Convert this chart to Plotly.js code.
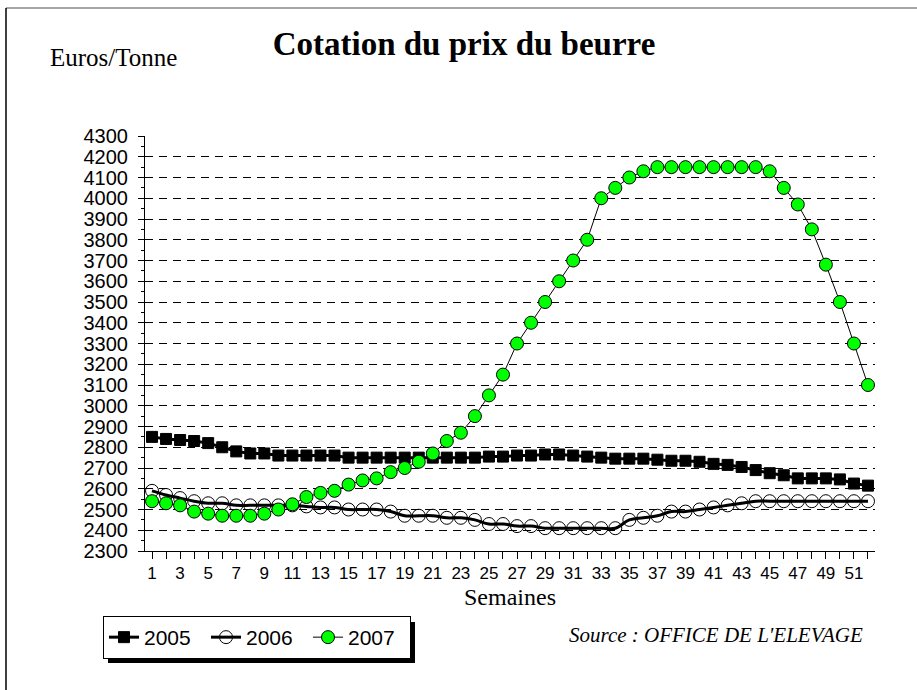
<!DOCTYPE html>
<html>
<head>
<meta charset="utf-8">
<script src="https://cdn.plot.ly/plotly-3.0.1.min.js"></script>
<style>html,body{margin:0;padding:0;background:#fff;}#chart{width:917px;height:690px;}</style>
</head>
<body>
<div id="chart"></div>
<script>
var weeks = [1,2,3,4,5,6,7,8,9,10,11,12,13,14,15,16,17,18,19,20,21,22,23,24,25,26,27,28,29,30,31,32,33,34,35,36,37,38,39,40,41,42,43,44,45,46,47,48,49,50,51,52];
var xTickVals = [1,3,5,7,9,11,13,15,17,19,21,23,25,27,29,31,33,35,37,39,41,43,45,47,49,51];
var xTickText = ["1","3","5","7","9","11","13","15","17","19","21","23","25","27","29","31","33","35","37","39","41","43","45","47","49","51"];
var yTickVals = [2300,2400,2500,2600,2700,2800,2900,3000,3100,3200,3300,3400,3500,3600,3700,3800,3900,4000,4100,4200,4300];
var gridVals = [2400,2500,2600,2700,2800,2900,3000,3100,3200,3300,3400,3500,3600,3700,3800,3900,4000,4100,4200];

var prix2005 = [2850,2840,2835,2830,2820,2800,2780,2770,2770,2760,2760,2760,2760,2760,2750,2750,2750,2750,2750,2750,2750,2750,2750,2750,2755,2755,2760,2760,2765,2765,2760,2755,2750,2745,2745,2745,2740,2735,2735,2730,2720,2715,2705,2690,2675,2665,2650,2650,2650,2645,2625,2615];
var prix2006 = [2590,2570,2555,2540,2530,2530,2520,2520,2520,2520,2520,2515,2510,2510,2500,2500,2500,2490,2470,2470,2470,2460,2460,2450,2430,2430,2420,2420,2410,2410,2410,2410,2410,2410,2450,2460,2470,2490,2490,2500,2510,2520,2530,2540,2540,2540,2540,2540,2540,2540,2540,2540];
var prix2007 = [2540,2530,2520,2490,2480,2470,2470,2470,2480,2500,2525,2560,2580,2590,2620,2640,2650,2680,2700,2730,2770,2830,2870,2950,3050,3150,3300,3400,3500,3600,3700,3800,4000,4050,4100,4130,4150,4150,4150,4150,4150,4150,4150,4150,4130,4050,3970,3850,3680,3500,3300,3100];

var serif = "Liberation Serif, Times New Roman, serif";
var sans = "Liberation Sans, Arial, sans-serif";

var traces = [
  {x: weeks, y: prix2005, name: "2005", type: "scatter", mode: "lines+markers",
   line: {color: "#000", width: 3},
   marker: {symbol: "square", size: 11, color: "#000", line: {color: "#000", width: 1}}},
  {x: weeks, y: prix2006, name: "2006", type: "scatter", mode: "lines+markers",
   line: {color: "#000", width: 3, shape: "spline"},
   marker: {symbol: "circle", size: 13, color: "rgba(255,255,255,0)", line: {color: "#000", width: 1}}},
  {x: weeks, y: prix2007, name: "2007", type: "scatter", mode: "lines+markers",
   line: {color: "#000", width: 1},
   marker: {symbol: "circle", size: 13, color: "#00ff00", line: {color: "#000", width: 1}}},
  {x: [weeks[0]], y: [gridVals[0]], yaxis: "y2", type: "scatter", mode: "markers",
   marker: {opacity: 0}, showlegend: false, hoverinfo: "skip"}
];

function px(x){ return (x-145)/730; }
function py(y){ return 1-(y-136)/415; }

var layout = {
  width: 917, height: 690,
  margin: {l: 145, r: 42, t: 136, b: 139},
  paper_bgcolor: "#fff", plot_bgcolor: "rgba(0,0,0,0)",
  showlegend: true,
  title: {text: "<b>Cotation du prix du beurre</b>", font: {family: serif, size: 33, color: "#000"},
          xref: "container", x: 464/917, xanchor: "center", yref: "container", y: 1-43/690, yanchor: "middle"},
  xaxis: {range: [0.5, 52.5], tickvals: xTickVals, ticktext: xTickText, ticks: "outside", ticklen: 7,
          tickcolor: "#000", showline: true, linecolor: "#000", linewidth: 1, showgrid: false, zeroline: false,
          tickfont: {family: sans, size: 17, color: "#000"},
          minor: {dtick: 1, tick0: 0, ticks: "outside", ticklen: 7, tickcolor: "#000", showgrid: false}},
  yaxis: {range: [2300, 4300], tickvals: yTickVals, ticks: "outside", ticklen: 6, tickcolor: "#000",
          showline: true, linecolor: "#000", linewidth: 1, showgrid: false, zeroline: false,
          tickfont: {family: sans, size: 20, color: "#000"}, ticklabelstandoff: 6,
          minor: {dtick: 50, tick0: 2300, ticks: "outside", ticklen: 3, tickcolor: "#000", showgrid: false}},
  yaxis2: {range: [2300, 4300], overlaying: "y", tickvals: gridVals, showticklabels: false, ticks: "",
           showgrid: true, gridcolor: "#000", gridwidth: 1, griddash: "8px,6px", zeroline: false, showline: false},
  legend: {orientation: "h", x: px(103), y: py(616), xanchor: "left", yanchor: "top",
           bgcolor: "#fff", bordercolor: "#000", borderwidth: 1, entrywidth: 57,
           font: {family: sans, size: 21, color: "#000"}},
  annotations: [
    {text: "Euros/Tonne", xref: "paper", yref: "paper", x: px(48), y: py(58), xanchor: "left", yanchor: "middle",
     showarrow: false, font: {family: serif, size: 25, color: "#000"}},
    {text: "Semaines", xref: "paper", yref: "paper", x: px(510), y: py(597), xanchor: "center", yanchor: "middle",
     showarrow: false, font: {family: serif, size: 24, color: "#000"}},
    {text: "<i>Source : OFFICE DE L'ELEVAGE</i>", xref: "paper", yref: "paper", x: px(716), y: py(635), xanchor: "center", yanchor: "middle",
     showarrow: false, font: {family: serif, size: 21, color: "#000"}}
  ],
  shapes: [
    {type: "line", xref: "paper", yref: "paper", x0: px(6), x1: px(917), y0: py(8), y1: py(8), line: {color: "#888", width: 1.5}},
    {type: "line", xref: "paper", yref: "paper", x0: px(6), x1: px(6), y0: py(8), y1: py(690), line: {color: "#000", width: 1.5}},
    {type: "rect", xref: "paper", yref: "paper", x0: px(108), x1: px(415), y0: py(622), y1: py(663), fillcolor: "#000", line: {width: 0}, layer: "below"}
  ]
};

Plotly.newPlot("chart", traces, layout, {staticPlot: true, displayModeBar: false});
</script>
</body>
</html>
